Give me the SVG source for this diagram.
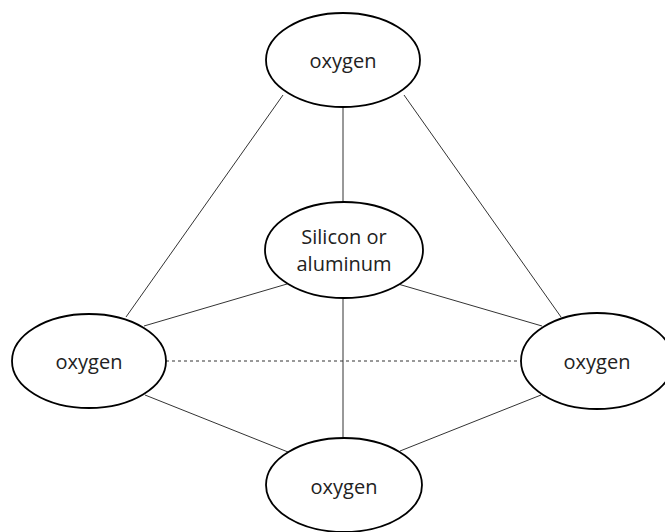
<svg xmlns="http://www.w3.org/2000/svg" width="665" height="532" viewBox="0 0 665 532">
<style>
.n ellipse{fill:#fff;stroke:#000;stroke-width:1.8}
.n text{font-family:"Open Sans","Liberation Sans",sans-serif;font-size:20px;fill:#222;text-anchor:middle}
.c line{stroke:#333;stroke-width:1}
.c .d{stroke-dasharray:3,3}
</style>
<rect width="665" height="532" fill="#fff"/>
<g class="c" id="connectors">
<line x1="343" y1="107" x2="343" y2="202"/>
<line x1="283" y1="95" x2="126" y2="317"/>
<line x1="404" y1="95" x2="561" y2="317"/>
<line x1="287" y1="284" x2="144" y2="326"/>
<line x1="398" y1="284" x2="542" y2="326"/>
<line x1="343" y1="298" x2="343" y2="438"/>
<line class="d" x1="166" y1="361" x2="521" y2="361"/>
<line x1="145" y1="395" x2="288" y2="452"/>
<line x1="541" y1="395" x2="400" y2="451"/>
</g>
<g class="n" id="top"><ellipse cx="343" cy="60" rx="77" ry="47"/><text x="343" y="68">oxygen</text></g>
<g class="n" id="center"><ellipse cx="344" cy="250" rx="79" ry="48"/><text x="344" y="244">Silicon or</text><text x="344" y="271">aluminum</text></g>
<g class="n" id="left"><ellipse cx="89" cy="361" rx="77" ry="47"/><text x="89" y="369">oxygen</text></g>
<g class="n" id="right"><ellipse cx="597" cy="361" rx="76" ry="48"/><text x="597" y="369">oxygen</text></g>
<g class="n" id="bottom"><ellipse cx="344" cy="485" rx="78" ry="47"/><text x="344" y="494">oxygen</text></g>
</svg>
